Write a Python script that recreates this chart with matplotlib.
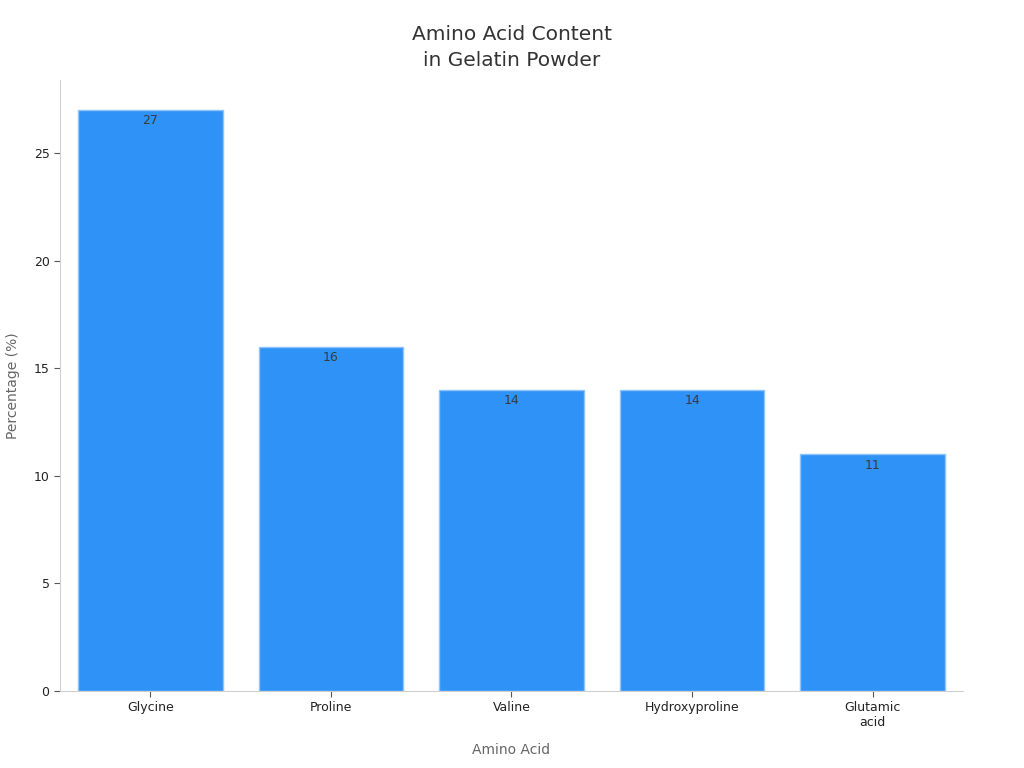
import matplotlib.pyplot as plt

# data
acids = ['Glycine', 'Proline', 'Valine', 'Hydroxyproline', 'Glutamic\nacid']
percent = [27, 16, 14, 14, 11]
yticks = [0, 5, 10, 15, 20, 25]

fig = plt.figure(figsize=(10.24, 7.68), dpi=100)
ax = fig.add_axes([0.0586, 0.1003, 0.8818, 0.7955])

x = range(len(acids))
bars = ax.bar(x, percent, width=0.8, color='#2E92F7', edgecolor='#8FC4FA', linewidth=1)

# value labels just inside the bar tops
for b, v in zip(bars, percent):
    ax.annotate(str(v), (b.get_x() + b.get_width() / 2, v), xytext=(0, -3),
                textcoords='offset points', ha='center', va='top',
                fontsize=9, color='#3a3a3a')

ax.set_xlim(-0.5, len(acids) - 0.5)
ax.set_ylim(0, 28.4)
ax.set_xticks(list(x))
ax.set_xticklabels(acids, fontsize=9, color='#222222')
ax.set_yticks(yticks)
ax.tick_params(axis='y', labelsize=9, colors='#222222', length=4, color='#555555')
ax.tick_params(axis='x', length=4, color='#555555')

for s in ['top', 'right']:
    ax.spines[s].set_visible(False)
for s in ['left', 'bottom']:
    ax.spines[s].set_color('#d0d0d0')

ax.set_xlabel('Amino Acid', fontsize=10, color='#666666', labelpad=10)
ax.set_ylabel('Percentage (%)', fontsize=10, color='#666666', labelpad=10)
fig.suptitle('Amino Acid Content\nin Gelatin Powder', fontsize=14.5, color='#333333',
             y=0.968, linespacing=1.5)

fig.savefig('out.png', dpi=100)
